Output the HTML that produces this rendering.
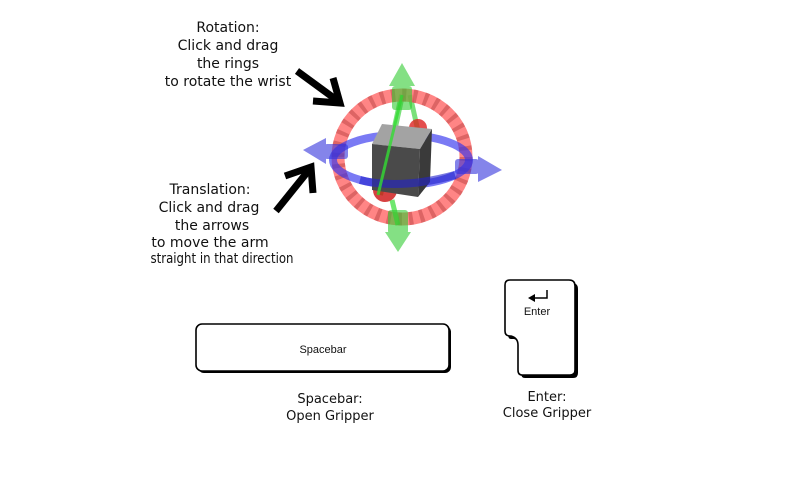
<!DOCTYPE html>
<html><head><style>
html,body{margin:0;padding:0;background:#fff;}
svg{display:block;}
text{font-family:"DejaVu Sans","Liberation Sans",sans-serif;fill:#111;}
</style></head><body>
<svg width="800" height="500" viewBox="0 0 800 500" xmlns="http://www.w3.org/2000/svg">
<!-- texts -->
<g font-size="14" text-anchor="middle">
<text x="228" y="32">Rotation:</text>
<text x="228" y="50">Click and drag</text>
<text x="228" y="68">the rings</text>
<text x="228" y="86">to rotate the wrist</text>
<text x="210" y="194">Translation:</text>
<text x="209" y="212">Click and drag</text>
<text x="212" y="230">the arrows</text>
<text x="210" y="247">to move the arm</text>
<text x="222" y="263" textLength="143" lengthAdjust="spacingAndGlyphs">straight in that direction</text>
</g>
<!-- black arrows -->
<g stroke="#000" stroke-width="7" fill="none" stroke-linecap="butt" stroke-linejoin="miter">
<line x1="297" y1="71" x2="338" y2="101"/>
<polyline points="313,101 340,103 333,78"/>
<line x1="276" y1="211" x2="309" y2="170"/>
<polyline points="285,176 311,167 313,193"/>
</g>
<!-- green axis back -->
<g opacity="0.6">
<line x1="402" y1="95" x2="380" y2="195" stroke="#2c2" stroke-width="6"/>
<line x1="410" y1="95" x2="420" y2="140" stroke="#2c2" stroke-width="5"/>
</g>
<!-- red ring -->
<ellipse cx="402" cy="157" rx="64" ry="62" fill="none" stroke="#f66" stroke-width="13" opacity="0.8"/>
<ellipse cx="402" cy="157" rx="64" ry="62" fill="none" stroke="#a33" stroke-width="13" stroke-dasharray="4 7" opacity="0.4"/>
<!-- red balls -->
<circle cx="418" cy="128" r="9" fill="#d22" opacity="0.8"/>
<circle cx="385" cy="190" r="12" fill="#c11" opacity="0.8"/>
<!-- blue ring -->
<ellipse cx="401" cy="160" rx="68" ry="25" fill="none" stroke="#33e" stroke-width="8" opacity="0.65"/>
<!-- cube -->
<polygon points="372,144 382,124 432,129 420,149" fill="#a3a3a3"/>
<polygon points="372,144 420,149 418,197 372,190" fill="#4a4a4a"/>
<polygon points="420,149 432,129 430,182 418,197" fill="#3a3a3a"/>
<!-- blue across cube front -->
<path d="M 360 180 Q 400 190 455 175" fill="none" stroke="#22c" stroke-width="8" opacity="0.6"/>
<!-- green line front -->
<line x1="402" y1="95" x2="378" y2="195" stroke="#3d3" stroke-width="3" opacity="0.8"/>
<line x1="392" y1="200" x2="398" y2="225" stroke="#3d3" stroke-width="5" opacity="0.7"/>
<!-- green arrows -->
<g fill="#3c3" opacity="0.6">
<rect x="392" y="86" width="20" height="24" rx="3"/>
<polygon points="402,63 389,86 415,86"/>
<rect x="388" y="210" width="20" height="24" rx="3"/>
<polygon points="398,252 385,232 411,232"/>
</g>
<!-- blue arrows -->
<g fill="#33d" opacity="0.6">
<rect x="324" y="144" width="24" height="15" rx="3"/>
<polygon points="303,150 326,138 326,164"/>
<rect x="455" y="159" width="24" height="15" rx="3"/>
<polygon points="502,170 478,156 478,182"/>
</g>
<!-- spacebar key -->
<rect x="198" y="326" width="253" height="47" rx="6" fill="#000"/>
<rect x="196" y="324" width="253" height="47" rx="6" fill="#fff" stroke="#000" stroke-width="1.6"/>
<text x="323" y="353" font-size="11" text-anchor="middle" style="font-family:'Liberation Sans',sans-serif">Spacebar</text>
<!-- enter key -->
<path d="M 510 282 L 571 282 Q 577 282 577 288 L 577 372 Q 577 377 572 377 L 524 377 Q 520 377 520 372 L 520 347 Q 520 340 513 338 L 510 338 Q 507 338 507 333 L 507 287 Q 507 282 510 282 Z" fill="#000" transform="translate(1,1)"/>
<path d="M 510 280 L 569 280 Q 575 280 575 286 L 575 370 Q 575 375 570 375 L 522 375 Q 518 375 518 370 L 518 345 Q 518 338 511 336 L 510 336 Q 505 336 505 331 L 505 285 Q 505 280 510 280 Z" fill="#fff" stroke="#000" stroke-width="1.6"/>
<path d="M 547 290 L 547 298 L 533 298" fill="none" stroke="#000" stroke-width="1.5"/>
<polygon points="528,298 535,294 535,302" fill="#000"/>
<text x="537" y="315" font-size="11" text-anchor="middle" style="font-family:'Liberation Sans',sans-serif">Enter</text>
<!-- labels -->
<g font-size="13" text-anchor="middle">
<text x="330" y="403">Spacebar:</text>
<text x="330" y="420">Open Gripper</text>
<text x="547" y="401">Enter:</text>
<text x="547" y="417">Close Gripper</text>
</g>
</svg>
</body></html>
